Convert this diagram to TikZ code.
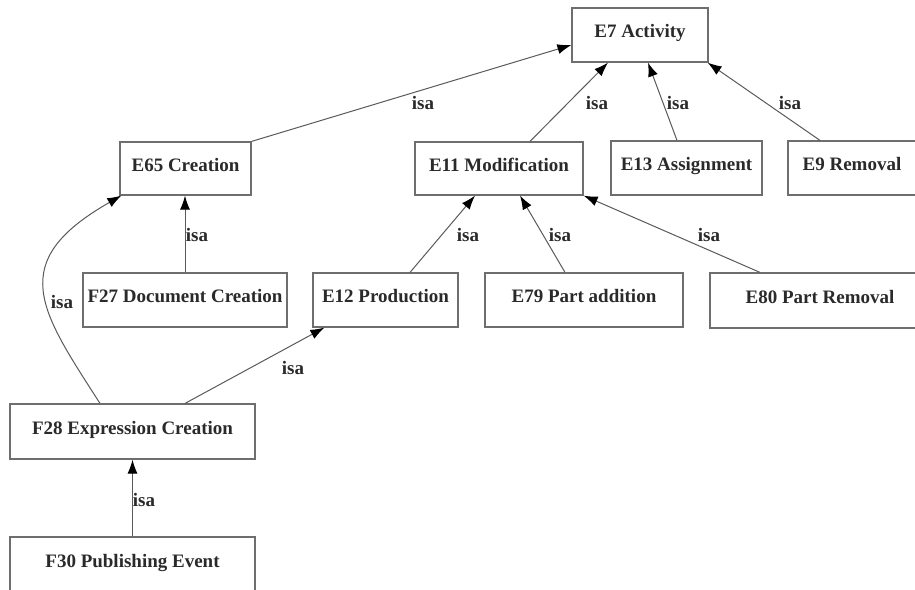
\documentclass[tikz,border=0pt]{standalone}
\usepackage{fontspec}
\setmainfont{Liberation Serif}
\usetikzlibrary{arrows.meta,calc}
\definecolor{boxline}{HTML}{6E6E6E}
\definecolor{edgeline}{HTML}{5A5A5A}
\definecolor{txt}{HTML}{2A2A2A}
\begin{document}
\begin{tikzpicture}[x=1pt,y=-1pt,
  cls/.style={draw=boxline, line width=1.2pt, fill=white, inner sep=0pt,
    text height=12.6pt, text depth=7pt,
    font=\fontsize{19}{22}\selectfont\bfseries, text=txt},
  isa/.style={draw=edgeline, line width=1pt,
    -{Latex[length=14pt,width=10pt,color=black]}},
  lbl/.style={font=\fontsize{19}{22}\selectfont\bfseries, text=txt, inner sep=0pt}]
\useasboundingbox (0,0) rectangle (915,589);
\clip (0,0) rectangle (915,589);
\fill[white] (0,0) rectangle (915,589);
% classes
\node[cls, minimum width=136pt, minimum height=54pt] (E7)  at (640,35)    {E7 Activity};
\node[cls, minimum width=131pt, minimum height=53pt] (E65) at (185.5,168.5) {E65 Creation};
\node[cls, minimum width=168pt, minimum height=53pt] (E11) at (499,168.5)   {E11 Modification};
\node[cls, minimum width=151pt, minimum height=54pt] (E13) at (686.5,168)   {E13 Assignment};
\node[cls, minimum width=128pt, minimum height=54pt] (E9)  at (852,168)     {E9 Removal};
\node[cls, minimum width=204pt, minimum height=54pt] (F27) at (185,300)     {F27 Document Creation};
\node[cls, minimum width=145pt, minimum height=54pt] (E12) at (385.5,300)   {E12 Production};
\node[cls, minimum width=198pt, minimum height=54pt] (E79) at (584,300)     {E79 Part addition};
\node[cls, minimum width=220pt, minimum height=55pt] (E80) at (820,300.5)   {E80 Part Removal};
\node[cls, minimum width=245pt, minimum height=55pt] (F28) at (132.5,431.5) {F28 Expression Creation};
\node[cls, minimum width=245pt, minimum height=55pt] (F30) at (132.5,564.5) {F30 Publishing Event};
% isa links
\draw[isa] (E65.north east) -- ($(E7.west)+(0,10)$);
\draw[isa] ($(E11.north)+(31,0)$) -- ($(E7.south)+(-32,0)$);
\draw[isa] ($(E13.north)+(-9.5,0)$) -- ($(E7.south)+(8,0)$);
\draw[isa] ($(E9.north)+(-32,0)$) -- ($(E7.south east)+(-1,0)$);
\draw[isa] (F27.north) -- (F27.north |- E65.south);
\draw[isa] ($(E12.north)+(24.5,0)$) -- ($(E11.south)+(-24,0)$);
\draw[isa] ($(E79.north)+(-19,0)$) -- ($(E11.south)+(21,0)$);
\draw[isa] ($(E80.north)+(-60,0)$) -- (E11.south east);
\draw[isa] ($(F28.north)+(-32.5,0)$) .. controls (40,310) and (5,262) .. ($(E65.south west)+(2,0)$);
\draw[isa] ($(F28.north)+(52.5,0)$) -- ($(E12.south west)+(12,0)$);
\draw[isa] (F30.north) -- (F28.south);
% labels
\node[lbl] (l1)  at (423,103) {isa};
\node[lbl] (l2)  at (597,103) {isa};
\node[lbl] (l3)  at (678,103) {isa};
\node[lbl] (l4)  at (790,103) {isa};
\node[lbl] (l5)  at (197,235) {isa};
\node[lbl] (l6)  at (468,235) {isa};
\node[lbl] (l7)  at (560,235) {isa};
\node[lbl] (l8)  at (709,235) {isa};
\node[lbl] (l9)  at (62,302)  {isa};
\node[lbl] (l10) at (293,368) {isa};
\node[lbl] (l11) at (144,500) {isa};
\end{tikzpicture}
\end{document}
